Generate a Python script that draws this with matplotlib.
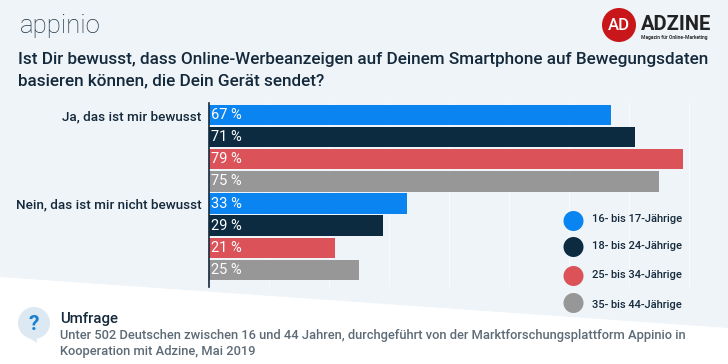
import matplotlib
matplotlib.use("Agg")
import matplotlib.pyplot as plt
from matplotlib.patches import Polygon, Circle

W, H = 728, 364

answers = ["Ja, das ist mir bewusst", "Nein, das ist mir nicht bewusst"]
groups = ["16- bis 17-Jährige", "18- bis 24-Jährige", "25- bis 34-Jährige", "35- bis 44-Jährige"]
yes_values = [67, 71, 79, 75]
no_values = [33, 29, 21, 25]
colors = ["#0a84f0", "#0c2b40", "#dc5259", "#979797"]
legend_y = [221, 247, 276, 303]
legend_text_y = [219.5, 246, 275, 305]

plt.rcParams['font.family'] = ['Roboto', 'DejaVu Sans']
dark = "#14293b"

fig = plt.figure(figsize=(W / 100, H / 100), dpi=100, facecolor="#eff4f8")

# background layer in pixel coords
bg = fig.add_axes([0, 0, 1, 1])
bg.set_xlim(0, W)
bg.set_ylim(H, 0)
bg.axis("off")
bg.add_patch(Polygon([(0, 277), (728, 328), (728, 364), (0, 364)], color="white", lw=0))

# bars
top, bottom, left = 103, 287, 208.5
ax = fig.add_axes([left / W, 1 - bottom / H, 1 - left / W, (bottom - top) / H])
ax.patch.set_alpha(0)
ax.set_xlim(0, (W - left) / 6.0)
ax.set_ylim(8.27, -0.042)
values = yes_values + no_values
for i, v in enumerate(values):
    ax.barh(i + 0.5, v, height=0.92, color=colors[i % 4], zorder=2)
    ax.text(0.4, i + 0.5, "%d %%" % v, color="white", fontsize=10.5, va="center", ha="left", zorder=3)
ax.set_xticks(range(10, 90, 10))
ax.grid(axis="x", color="#f8fafc", lw=0.8, zorder=0)
ax.tick_params(length=0, labelbottom=False)
ax.set_yticks([0.5, 4.5])
ax.set_yticklabels(answers, fontsize=9.7, color=dark, fontweight="medium")
ax.tick_params(axis="y", pad=5)
for s in ["top", "right", "bottom"]:
    ax.spines[s].set_visible(False)
ax.spines["left"].set_color(dark)
ax.spines["left"].set_linewidth(1.2)

# top layer: header, legend, footer
fg = fig.add_axes([0, 0, 1, 1])
fg.set_xlim(0, W)
fg.set_ylim(H, 0)
fg.axis("off")
fg.patch.set_alpha(0)

fg.text(19.5, 26, "appinio", fontsize=18.5, color="#1d3444", va="center", ha="left", fontweight="light")
fg.text(18.5, 59.5, "Ist Dir bewusst, dass Online-Werbeanzeigen auf Deinem Smartphone auf Bewegungsdaten",
        fontsize=12.3, color=dark, va="center", fontweight="medium")
fg.text(18.5, 80.5, "basieren können, die Dein Gerät sendet?",
        fontsize=12.3, color=dark, va="center", fontweight="medium")

fg.add_patch(Circle((619, 25), 17, color="#c8161b", lw=0))
fg.text(619, 25, "AD", fontsize=12, color="white", ha="center", va="center", fontweight="medium")
fg.text(641, 24.5, "ADZINE", fontsize=14.5, color="#222222", ha="left", va="center", fontweight="bold")
fg.text(641, 37.5, "Magazin für Online-Marketing", fontsize=3.6, color="#333333", ha="left", va="center", fontweight="bold")

for g, c, y, ty in zip(groups, colors, legend_y, legend_text_y):
    fg.add_patch(Circle((573.5, y), 10, color=c, lw=0))
    fg.text(592, ty, g, fontsize=8.0, color=dark, va="center", ha="left", fontweight="medium")

# question bubble
fg.add_patch(Polygon([(25, 335), (37, 343), (36, 333)], color="#dce9f2", lw=0))
fg.add_patch(Circle((34, 323), 16, color="#dce9f2", lw=0))
fg.text(34, 325, "?", fontsize=15, color="#1b7fd0", ha="center", va="center", fontweight="bold")
fg.text(60, 319.5, "Umfrage", fontsize=10.8, color=dark, va="center", fontweight="medium")
fg.text(60, 336, "Unter 502 Deutschen zwischen 16 und 44 Jahren, durchgeführt von der Marktforschungsplattform Appinio in",
        fontsize=9.25, color="#5d6b77", va="center", fontweight="medium")
fg.text(60, 351.5, "Kooperation mit Adzine, Mai 2019",
        fontsize=9.25, color="#5d6b77", va="center", fontweight="medium")

plt.savefig("out.png", dpi=100, facecolor=fig.get_facecolor())
